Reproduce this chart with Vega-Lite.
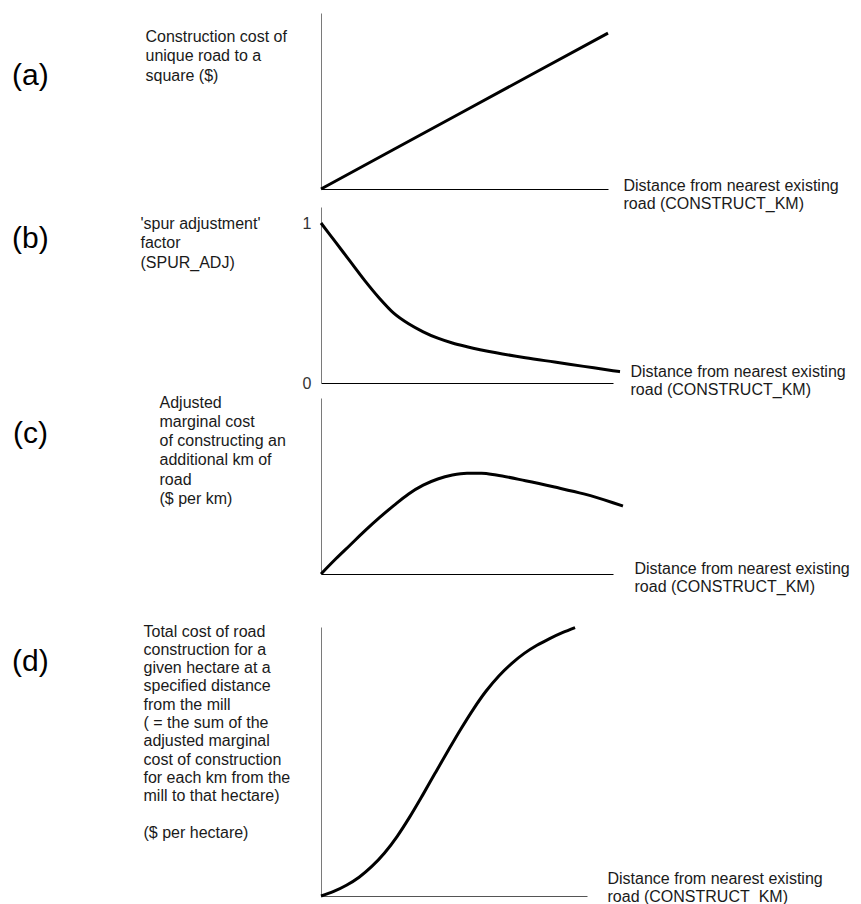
{
  "$schema": "https://vega.github.io/schema/vega-lite/v6.json",
  "padding": {"left": 12, "top": 13, "right": 5, "bottom": 5},
  "config": {
    "view": {"stroke": null},
    "font": "Liberation Sans",
    "axis": {
      "grid": false, "ticks": false, "labels": false,
      "domainColor": "#000", "domainWidth": 1,
      "titleFont": "Liberation Sans", "titleFontSize": 16, "titleFontWeight": "normal",
      "titleColor": "#1a1a1a", "titleAngle": 0, "titleAlign": "left", "titleBaseline": "alphabetic",
      "labelFont": "Liberation Sans", "labelFontSize": 16, "labelColor": "#333"
    },
    "axisY": {"domainColor": "#7a7a7a"},
    "title": {"font": "Liberation Sans", "fontSize": 30, "fontWeight": "normal", "color": "#000", "anchor": "start", "frame": "group", "baseline": "middle", "offset": 0},
    "line": {"color": "#000", "strokeWidth": 3, "interpolate": "monotone"}
  },
  "datasets": {
    "a": [{"km": 0, "v": 0}, {"km": 0.5, "v": 0.443}, {"km": 1, "v": 0.886}],
    "b": [
      {"km": 0, "v": 1.0}, {"km": 0.05, "v": 0.88}, {"km": 0.1, "v": 0.76}, {"km": 0.15, "v": 0.64},
      {"km": 0.2, "v": 0.53}, {"km": 0.25, "v": 0.435}, {"km": 0.3, "v": 0.37}, {"km": 0.35, "v": 0.32},
      {"km": 0.4, "v": 0.28}, {"km": 0.45, "v": 0.25}, {"km": 0.5, "v": 0.227}, {"km": 0.6, "v": 0.189},
      {"km": 0.7, "v": 0.158}, {"km": 0.8, "v": 0.131}, {"km": 0.9, "v": 0.104}, {"km": 1.0, "v": 0.077},
      {"km": 1.024, "v": 0.071}
    ],
    "c": [
      {"km": 0, "v": 0}, {"km": 0.05, "v": 0.085}, {"km": 0.1, "v": 0.165}, {"km": 0.15, "v": 0.245},
      {"km": 0.2, "v": 0.32}, {"km": 0.25, "v": 0.39}, {"km": 0.3, "v": 0.455}, {"km": 0.35, "v": 0.505},
      {"km": 0.4, "v": 0.54}, {"km": 0.45, "v": 0.562}, {"km": 0.5, "v": 0.572}, {"km": 0.55, "v": 0.572},
      {"km": 0.6, "v": 0.562}, {"km": 0.7, "v": 0.53}, {"km": 0.8, "v": 0.494}, {"km": 0.9, "v": 0.455},
      {"km": 1.0, "v": 0.405}, {"km": 1.034, "v": 0.386}
    ],
    "d": [
      {"km": 0, "v": 0}, {"km": 0.05, "v": 0.017}, {"km": 0.1, "v": 0.04}, {"km": 0.15, "v": 0.07},
      {"km": 0.2, "v": 0.11}, {"km": 0.25, "v": 0.16}, {"km": 0.3, "v": 0.222}, {"km": 0.35, "v": 0.295},
      {"km": 0.4, "v": 0.375}, {"km": 0.45, "v": 0.458}, {"km": 0.5, "v": 0.54}, {"km": 0.55, "v": 0.62},
      {"km": 0.6, "v": 0.695}, {"km": 0.65, "v": 0.762}, {"km": 0.7, "v": 0.818}, {"km": 0.75, "v": 0.864},
      {"km": 0.8, "v": 0.902}, {"km": 0.85, "v": 0.932}, {"km": 0.9, "v": 0.957}, {"km": 0.95, "v": 0.979},
      {"km": 1.0, "v": 0.998}
    ]
  },
  "bounds": "flush",
  "spacing": 18,
  "vconcat": [
    {
      "width": 287, "height": 176,
      "title": {"text": "(a)", "dx": -309, "dy": 82},
      "data": {"name": "a"},
      "mark": "line",
      "encoding": {
        "x": {"field": "km", "type": "quantitative", "scale": {"domain": [0, 1], "nice": false},
              "axis": {"title": ["Distance from nearest existing", "road (CONSTRUCT_KM)"], "titleX": 302, "titleY": 1, "titleLineHeight": 18}},
        "y": {"field": "v", "type": "quantitative", "scale": {"domain": [0, 1], "nice": false},
              "axis": {"title": ["Construction cost of", "unique road to a", "square ($)"], "titleX": -176, "titleY": 28, "titleLineHeight": 19.5}}
      }
    },
    {
      "bounds": "flush",
      "spacing": 15,
      "vconcat": [
        {
          "width": 292, "height": 176,
          "title": {"text": "(b)", "dx": -309, "dy": 51},
          "data": {"name": "b"},
          "mark": "line",
          "encoding": {
            "x": {"field": "km", "type": "quantitative", "scale": {"domain": [0, 1], "nice": false},
                  "axis": {"title": ["Distance from nearest existing", "road (CONSTRUCT_KM)"], "titleX": 309, "titleY": -7, "titleLineHeight": 18}},
            "y": {"field": "v", "type": "quantitative", "scale": {"domain": [0, 1.1], "nice": false},
                  "axis": {"title": ["'spur adjustment'", "factor", "(SPUR_ADJ)"], "titleX": -181, "titleY": 21, "titleLineHeight": 19.5,
                           "labels": true, "values": [0, 1], "format": "d", "labelPadding": 10}}
          }
        },
        {
          "bounds": "flush",
          "spacing": 53,
          "vconcat": [
            {
              "width": 292, "height": 176,
              "title": {"text": "(c)", "dx": -308, "dy": 59},
              "data": {"name": "c"},
              "mark": "line",
              "encoding": {
                "x": {"field": "km", "type": "quantitative", "scale": {"domain": [0, 1], "nice": false},
                      "axis": {"title": ["Distance from nearest existing", "road (CONSTRUCT_KM)"], "titleX": 313, "titleY": -1, "titleLineHeight": 18}},
                "y": {"field": "v", "type": "quantitative", "scale": {"domain": [0, 1], "nice": false},
                      "axis": {"title": ["Adjusted", "marginal cost", "of constructing an", "additional km of", "road", "($ per km)"], "titleX": -162, "titleY": 9, "titleLineHeight": 19.3}}
              }
            },
            {
              "width": 266, "height": 269,
              "title": {"text": "(d)", "dx": -309, "dy": 59},
              "data": {"name": "d"},
              "mark": "line",
              "encoding": {
                "x": {"field": "km", "type": "quantitative", "scale": {"domain": [0, 1.047], "nice": false},
                      "axis": {"title": ["Distance from nearest existing", "road (CONSTRUCT_KM)"], "titleX": 286, "titleY": -13, "titleLineHeight": 18, "domainColor": "#555"}},
                "y": {"field": "v", "type": "quantitative", "scale": {"domain": [0, 1], "nice": false},
                      "axis": {"title": ["Total cost of road", "construction for a", "given hectare at a", "specified distance", "from the mill", "( = the sum of the", "adjusted marginal", "cost of construction", "for each km from the", "mill to that hectare)", "\u200b", "($ per hectare)"], "titleX": -178, "titleY": 9, "titleLineHeight": 18.3}}
              }
            }
          ]
        }
      ]
    }
  ]
}
